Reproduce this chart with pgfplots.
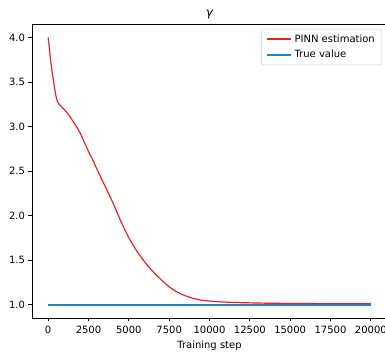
\documentclass[border=0pt]{standalone}
\usepackage{fontspec}
\setmainfont{DejaVu Sans}
\usepackage{pgfplots}
\pgfplotsset{compat=1.18}
\definecolor{pinnred}{HTML}{E32222}
\definecolor{trueblue}{HTML}{2E7EBC}
\begin{document}
\fontsize{10bp}{12bp}\selectfont
\begin{tikzpicture}
\begin{axis}[
  at={(0,0)}, anchor=south west,
  scale only axis,
  width=355bp, height=294bp,
  xmin=-1000, xmax=21000,
  ymin=0.85, ymax=4.15,
  xtick={0,2500,5000,7500,10000,12500,15000,17500,20000},
  ytick={1.0,1.5,2.0,2.5,3.0,3.5,4.0},
  scaled x ticks=false,
  xticklabel style={yshift=-1bp,/pgf/number format/.cd,fixed,1000 sep={},assume math mode=true},
  yticklabel style={/pgf/number format/.cd,fixed,fixed zerofill,precision=1,assume math mode=true},
  tick label style={font=\fontsize{10bp}{12bp}\selectfont},
  tick align=outside,
  major tick length=3.5bp,
  xtick pos=bottom, ytick pos=left,
  axis line style={line width=0.8bp},
  every tick/.style={line width=0.8bp, black},
  xlabel={Training step},
  label style={font=\fontsize{10bp}{12bp}\selectfont},
  xlabel style={yshift=0bp},
  title={\itshape γ},
  title style={font=\fontsize{12bp}{14bp}\selectfont, yshift=-5bp},
  legend cell align=left,
  legend style={at={(rel axis cs:1,1)}, anchor=north east, xshift=-5bp, yshift=-5bp,
    draw=black!18, rounded corners=2bp, font=\fontsize{10bp}{12bp}\selectfont,
    inner xsep=4bp, inner ysep=3.5bp, row sep=2.5bp,
    nodes={inner xsep=3bp}},
]
\addplot[pinnred, line width=1.2bp, smooth, tension=0.3,
  legend image code/.code={\path[draw=pinnred, line width=1.5bp] (0bp,0bp) -- (24bp,0bp);}] coordinates {
(0,4.000) (50,3.92) (100,3.83) (150,3.75) (200,3.68) (300,3.55) (400,3.43)
(500,3.33) (600,3.27) (700,3.245) (800,3.225) (1000,3.19) (1250,3.135)
(1500,3.07) (1750,3.00) (2000,2.92) (2250,2.82) (2500,2.72) (2750,2.63)
(3000,2.53) (3500,2.34) (4000,2.15) (4500,1.94) (5000,1.75) (5500,1.60)
(6000,1.475) (6500,1.37) (7000,1.28) (7500,1.20) (8000,1.14) (8500,1.10)
(9000,1.07) (9500,1.05) (10000,1.04) (10500,1.033) (11000,1.028)
(12000,1.022) (13000,1.018) (14000,1.015) (16000,1.012) (18000,1.011)
(20000,1.01)
};
\addlegendentry{PINN estimation}
\addplot[trueblue, line width=2bp,
  legend image code/.code={\path[draw=trueblue, line width=2bp] (0bp,0bp) -- (24bp,0bp);}] coordinates {(0,1.0) (20000,1.0)};
\addlegendentry{True value}
\end{axis}
\pgfresetboundingbox
\useasboundingbox (-32bp,-36bp) rectangle (353bp,318bp);
\end{tikzpicture}
\end{document}
